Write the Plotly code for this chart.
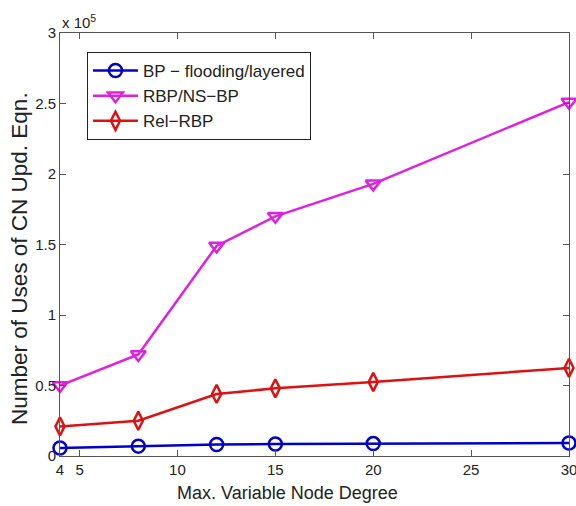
import plotly.graph_objects as go

x_deg = [4, 8, 12, 15, 20, 30]
bp = [0.057, 0.07, 0.082, 0.085, 0.088, 0.092]
rbp = [0.50, 0.72, 1.49, 1.70, 1.93, 2.51]
relrbp = [0.21, 0.25, 0.44, 0.48, 0.525, 0.625]

x_ticks = [4, 5, 10, 15, 20, 25, 30]
y_ticks = [0, 0.5, 1, 1.5, 2, 2.5, 3]
y_ticktext = ["0", "0.5", "1", "1.5", "2", "2.5", "3"]

font = "Liberation Sans, Arial, sans-serif"

fig = go.Figure()
series = [
    ("BP \u2212 flooding/layered", bp, "#0000cc", "circle-open"),
    ("RBP/NS\u2212BP", rbp, "#e020e0", "triangle-down-open"),
    ("Rel\u2212RBP", relrbp, "#dd1111", "diamond-tall-open"),
]
for name, ys, col, sym in series:
    fig.add_trace(go.Scatter(
        x=x_deg, y=ys, name=name, mode="lines+markers",
        line=dict(color=col, width=2.5),
        marker=dict(symbol=sym, size=13, color=col, line=dict(color=col, width=2.5)),
        cliponaxis=False,
    ))

fig.update_layout(
    width=576, height=506,
    margin=dict(l=60, r=7, t=33, b=50),
    paper_bgcolor="white", plot_bgcolor="white",
    font=dict(family=font, size=14, color="#222"),
    showlegend=True,
    legend=dict(x=0.053, y=0.955, xanchor="left", yanchor="top",
                bgcolor="white", bordercolor="#222", borderwidth=1,
                font=dict(size=17, family=font), tracegroupgap=0,
                itemwidth=45),
    xaxis=dict(range=[4, 30], tickvals=x_ticks, ticks="inside", ticklen=6,
               tickcolor="#555", showline=True, linecolor="#555", linewidth=1,
               mirror="ticks", showgrid=False, zeroline=False,
               ticklabeloverflow="allow", automargin=False,
               tickfont=dict(size=15)),
    yaxis=dict(range=[0, 3], tickvals=y_ticks, ticktext=y_ticktext, ticks="inside",
               ticklen=6, tickcolor="#555", showline=True, linecolor="#555",
               linewidth=1, mirror="ticks", showgrid=False, zeroline=False,
               automargin=False, tickfont=dict(size=15)),
)

# axis titles as annotations for exact placement
fig.add_annotation(text="Max. Variable Node Degree", xref="paper", yref="paper",
                   x=(287 - 60) / 509, y=-(493 - 456) / 423, xanchor="center", yanchor="middle",
                   showarrow=False, font=dict(size=18, family=font, color="#222"))
fig.add_annotation(text="Number of Uses of CN Upd. Eqn.", xref="paper", yref="paper",
                   x=-(60 - 19) / 509, y=(456 - 251) / 423, xanchor="center", yanchor="middle",
                   textangle=-90, showarrow=False, yshift=-8,
                   font=dict(size=22.5, family=font, color="#222"))

fig.add_annotation(text="x 10<sup>5</sup>", xref="paper", yref="paper", x=0.0, y=1.0,
                   xanchor="left", yanchor="bottom", showarrow=False,
                   font=dict(size=15, family=font), yshift=0)

fig.write_html("out.html")
